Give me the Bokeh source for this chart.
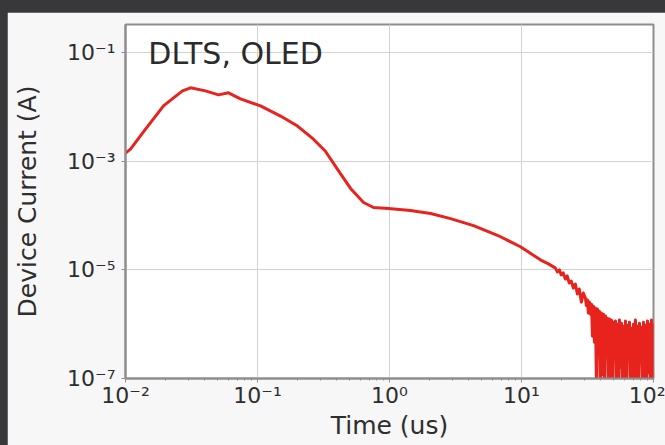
from bokeh.plotting import figure
from bokeh.models import FixedTicker, CustomJSTickFormatter, Label, Range1d
from bokeh.embed import file_html
from bokeh.resources import INLINE

# Time (us) and device current (A)
time_us = [
    0.0100, 0.01091, 0.01418, 0.01941, 0.02312, 0.02704, 0.03105, 0.0403,
    0.0507, 0.0603, 0.0743, 0.1054, 0.1494, 0.2009, 0.2655, 0.327, 0.404,
    0.507, 0.636, 0.757, 0.982, 1.442, 2.05, 2.90, 4.33, 6.93, 9.82, 13.9,
    16.0,
    18.0, 18.7, 19.4, 20.0, 20.7, 21.5, 22.2, 23.0, 23.8, 24.7, 25.6, 26.5,
    27.4, 28.4, 29.4,
    30.5, 31.0, 31.6, 32.1, 32.7, 33.3, 33.9, 34.5, 35.1, 35.7, 36.3, 37.0,
    37.6, 38.3, 38.9, 39.6, 40.3, 41.0, 41.8, 42.5, 43.3, 44.0, 44.8, 45.6,
    46.4, 47.2, 48.0, 48.9, 49.7, 50.6, 51.5, 52.4, 53.3, 54.3, 55.2, 56.2,
    57.2, 58.2, 59.2, 60.3, 61.3, 62.4, 63.5, 64.6, 65.8, 66.9, 68.1, 69.3,
    70.5, 71.8, 73.0, 74.3, 75.6, 77.0, 78.3, 79.7, 81.1, 82.5, 84.0, 85.5,
    87.0, 88.5, 90.1, 91.7, 93.3, 94.9, 96.6, 98.3, 100.0,
]
current_a = [
    1.41e-3, 1.67e-3, 3.92e-3, 1.045e-2, 1.47e-2, 1.98e-2, 2.25e-2, 1.98e-2,
    1.67e-2, 1.82e-2, 1.41e-2, 1.045e-2, 6.8e-3, 4.45e-3, 2.55e-3, 1.53e-3,
    7.11e-4, 3.16e-4, 1.74e-4, 1.41e-4, 1.35e-4, 1.24e-4, 1.09e-4, 8.8e-5,
    6.53e-5, 4.08e-5, 2.67e-5, 1.53e-5, 1.29e-5,
    1.09e-5, 9.18e-6, 1.0e-5, 8.07e-6, 8.8e-6, 6.8e-6, 7.74e-6, 5.74e-6,
    6.25e-6, 4.64e-6, 5.5e-6, 3.6e-6, 4.45e-6, 2.55e-6, 3.75e-6,
    3.03e-6, 2.2e-6, 2.78e-6, 1.6e-6, 2.55e-6, 1.53e-6, 2.34e-6, 6.0e-7,
    2.15e-6, 4.64e-7, 1.98e-6, 6e-8, 1.90e-6, 3.03e-7, 1.74e-6, 5e-8,
    1.60e-6, 1.19e-7, 1.53e-6, 5e-8, 1.41e-6, 4.64e-7, 1.29e-6, 5e-8,
    1.24e-6, 9.2e-8, 1.19e-6, 5e-8, 1.09e-6, 2.45e-7, 1.14e-6, 5e-8,
    1.0e-6, 5e-8, 1.19e-6, 1.60e-7, 1.04e-6, 5e-8, 9.18e-7, 6e-8,
    1.14e-6, 5e-8, 9.58e-7, 3.03e-7, 1.09e-6, 5e-8, 8.43e-7, 5e-8,
    1.0e-6, 1.04e-7, 1.19e-6, 5e-8, 9.18e-7, 5e-8, 1.04e-6, 1.98e-7,
    8.8e-7, 5e-8, 1.09e-6, 6e-8, 9.58e-7, 5e-8, 1.14e-6, 1.29e-7,
    1.0e-6, 5e-8, 1.19e-6, 5e-8, 1.04e-6,
]

x_ticks = [0.01, 0.1, 1, 10, 100]
y_ticks = [1e-7, 1e-5, 1e-3, 1e-1]
x_minor = [m * d for d in [0.01, 0.1, 1, 10] for m in range(2, 10)]

title_text = "DLTS, OLED"
x_label = "Time (us)"
y_label = "Device Current (A)"

FONT = "DejaVu Sans"

p = figure(
    width=658, height=433,
    x_axis_type="log", y_axis_type="log",
    x_range=Range1d(0.01, 100), y_range=Range1d(1e-7, 0.33),
    output_backend="svg", toolbar_location=None,
    min_border_left=118, min_border_right=12,
    min_border_top=12, min_border_bottom=67,
)
p.border_fill_color = "#f7f7f7"
p.background_fill_color = "#ffffff"
p.outline_line_color = "#8e8e8e"
p.outline_line_width = 2

p.line(time_us, current_a, line_color="#e8231d", line_width=3,
       line_join="round")

p.xaxis.ticker = FixedTicker(ticks=x_ticks, minor_ticks=x_minor)
p.yaxis.ticker = FixedTicker(ticks=y_ticks)

fmt = CustomJSTickFormatter(code="""
const sup = {"-":"\u207b","0":"\u2070","1":"\u00b9","2":"\u00b2","3":"\u00b3",
             "4":"\u2074","5":"\u2075","6":"\u2076","7":"\u2077","8":"\u2078","9":"\u2079"};
const e = Math.round(Math.log10(tick));
return "10" + String(e).split("").map(c => sup[c]).join("");
""")
for ax in (p.xaxis, p.yaxis):
    ax.formatter = fmt
    ax.major_label_text_font = FONT
    ax.major_label_text_font_size = "22px"
    ax.major_label_text_color = "#2e2e2e"
    ax.axis_line_color = "#8e8e8e"
    ax.axis_line_width = 2
    ax.major_tick_line_color = "#8e8e8e"
    ax.major_tick_out = 4
    ax.major_tick_in = 0
    ax.minor_tick_line_color = "#8e8e8e"
    ax.minor_tick_out = 2
    ax.minor_tick_in = 0
    ax.axis_label_text_font = FONT
    ax.axis_label_text_font_size = "25px"
    ax.axis_label_text_font_style = "normal"
    ax.axis_label_text_color = "#2e2e2e"
p.yaxis.minor_tick_line_color = None
p.xaxis.axis_label = x_label
p.yaxis.axis_label = y_label
p.xaxis.major_label_standoff = 0
p.yaxis.major_label_standoff = 6
p.xaxis.axis_label_standoff = 0
p.yaxis.axis_label_standoff = 22

p.xgrid.grid_line_color = "#d2d2d2"
p.ygrid.grid_line_color = "#d2d2d2"
p.xgrid.grid_line_width = 1
p.ygrid.grid_line_width = 1

p.add_layout(Label(x=0.0149, y=0.095, text=title_text,
                   text_font=FONT, text_font_size="30px",
                   text_color="#2b2b2b", text_baseline="alphabetic"))

html = file_html(p, INLINE)
html = html.replace(
    "</head>",
    "<style>html,body{margin:0 !important;background:#38383a !important;"
    "overflow:hidden !important}"
    "body{padding:12px 0 0 7px !important}</style></head>", 1)
open("out.html", "w").write(html)
